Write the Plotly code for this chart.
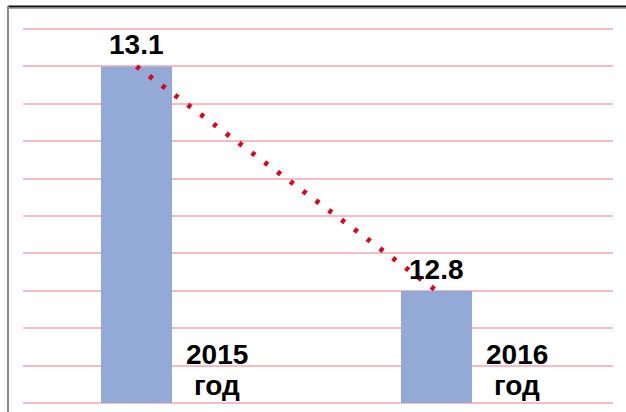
import plotly.graph_objects as go

# Chart data
years = ["2015", "2016"]
unit_word = "год"
values = [13.1, 12.8]

# Axis settings
y_min, y_max, y_step = 12.65, 13.15, 0.05

W, H = 626, 412
# plot area padded by 2px top/bottom so the edge gridlines stay inside it
PAD = 2
M_L, M_R, M_T, M_B = 23, 13, 29 - PAD, 9 - PAD
plot_w = W - M_L - M_R
plot_h = H - M_T - M_B
units_per_px = (y_max - y_min) / (plot_h - 2 * PAD)
y_range = [y_min - PAD * units_per_px, y_max + PAD * units_per_px]

bar_color = "#93aad7"
trend_color = "#e3001b"
grid_color = "#f7bcc3"
label_font = dict(family="Liberation Sans, Arial, sans-serif",
                  size=28, color="#000000", weight="bold")

xs = list(range(len(years)))
x_range = [-0.37833, 1.58833]


def px_to_paper_x(px):
    return (px - M_L) / plot_w


def px_to_paper_y(py):
    return (H - M_B - py) / plot_h


fig = go.Figure()

fig.add_trace(go.Bar(
    x=xs, y=[v - y_min for v in values], base=y_min, width=0.237,
    marker=dict(color=bar_color, line=dict(width=0)),
    hoverinfo="skip",
))

# dotted trend between the two years
fig.add_trace(go.Scatter(
    x=xs, y=values, mode="lines",
    line=dict(color=trend_color, width=5, dash="4px,12px"),
    hoverinfo="skip",
))

annotations = []
for x, v in zip(xs, values):
    annotations.append(dict(
        x=x, y=v, xref="x", yref="y", text=f"{v:.1f}",
        showarrow=False, yanchor="bottom", yshift=4, font=label_font,
    ))
for x, yr in zip(xs, years):
    annotations.append(dict(
        x=x, y=px_to_paper_y(354), xref="x", yref="paper", text=yr,
        showarrow=False, yanchor="middle", xshift=80, font=label_font,
    ))
    annotations.append(dict(
        x=x, y=px_to_paper_y(385), xref="x", yref="paper", text=unit_word,
        showarrow=False, yanchor="middle", xshift=80, font=label_font,
    ))

shapes = [
    # frame: top double rule
    dict(type="line", xref="paper", yref="paper",
         x0=px_to_paper_x(8), x1=px_to_paper_x(W), y0=px_to_paper_y(6.3), y1=px_to_paper_y(6.3),
         line=dict(color="#111111", width=1.5)),
    dict(type="line", xref="paper", yref="paper",
         x0=px_to_paper_x(8), x1=px_to_paper_x(W), y0=px_to_paper_y(7.8), y1=px_to_paper_y(7.8),
         line=dict(color="#555555", width=1.2)),
    # frame: left rule
    dict(type="line", xref="paper", yref="paper",
         x0=px_to_paper_x(8), x1=px_to_paper_x(8), y0=px_to_paper_y(6), y1=px_to_paper_y(H),
         line=dict(color="#8c8c8c", width=2)),
]

fig.update_layout(
    width=W, height=H, autosize=False,
    margin=dict(l=M_L, r=M_R, t=M_T, b=M_B, pad=0),
    paper_bgcolor="white", plot_bgcolor="white",
    showlegend=False,
    annotations=annotations,
    shapes=shapes,
    xaxis=dict(range=x_range, showgrid=False, zeroline=False, showticklabels=False,
               showline=False, ticks=""),
    yaxis=dict(range=y_range, tick0=y_min, dtick=y_step, showgrid=True,
               gridcolor=grid_color, gridwidth=2, zeroline=False,
               showticklabels=False, showline=False, ticks=""),
)

fig.write_html("out.html")
